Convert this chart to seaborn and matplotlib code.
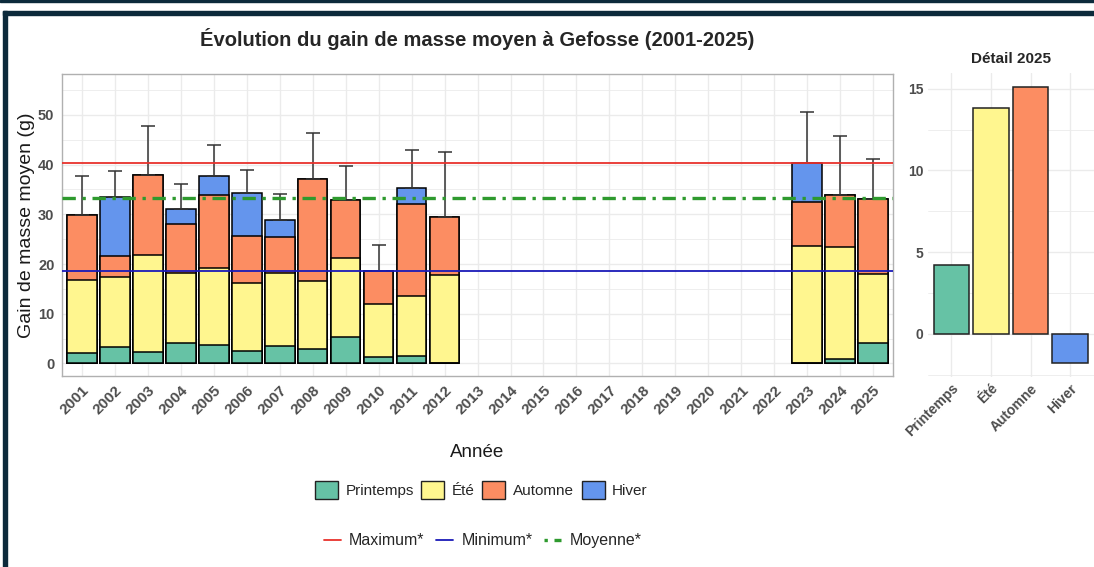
import pandas as pd
import numpy as np
import matplotlib.pyplot as plt
import seaborn as sns
from matplotlib.patches import Patch, Rectangle
from matplotlib.lines import Line2D
from matplotlib.ticker import MultipleLocator

# Données
annees_toutes = list(range(2001, 2026))
annees = [2001, 2002, 2003, 2004, 2005, 2006, 2007, 2008, 2009, 2010, 2011, 2012, 2023, 2024, 2025]
printemps = [2.1, 3.3, 2.3, 4.2, 3.7, 2.5, 3.6, 3.0, 5.4, 1.4, 1.5, 0.0, 0.0, 0.9, 4.2]
ete = [14.7, 14.1, 19.6, 13.9, 15.4, 13.6, 14.5, 13.6, 15.9, 10.5, 12.1, 17.7, 23.6, 22.5, 13.8]
automne = [13.1, 4.2, 16.0, 10.0, 14.7, 9.5, 7.3, 20.4, 11.5, 6.6, 18.5, 11.7, 8.9, 10.4, 15.1]
hiver = [0.0, 11.8, 0.0, 3.0, 3.9, 8.6, 3.5, 0.0, 0.0, 0.0, 3.2, 0.0, 7.9, 0.0, 0.0]
ecart_type = [7.7, 5.3, 9.9, 4.9, 6.3, 4.6, 5.1, 9.4, 6.9, 5.4, 7.7, 13.2, 10.1, 12.0, 8.0]

val_max = 40.4
val_min = 18.6
val_moy = 33.2

saisons = ["Printemps", "Été", "Automne", "Hiver"]
detail_2025 = [4.2, 13.8, 15.1, -1.8]

couleurs = {"Printemps": "#66c2a5", "Été": "#fff68f", "Automne": "#fc8d62", "Hiver": "#6495ed"}

sns.set_style("white")
plt.rcParams["font.family"] = ["Liberation Sans", "DejaVu Sans"]

df = pd.DataFrame({"annee": [str(a) for a in annees],
                   "Printemps": printemps, "Été": ete, "Automne": automne, "Hiver": hiver,
                   "sd": ecart_type})
# cumuls pour l'empilement
df["c_Printemps"] = df["Printemps"]
df["c_Été"] = df["c_Printemps"] + df["Été"]
df["c_Automne"] = df["c_Été"] + df["Automne"]
df["c_Hiver"] = df["c_Automne"] + df["Hiver"]
ordre = [str(a) for a in annees_toutes]

fig = plt.figure(figsize=(10.94, 5.67), dpi=100)
ax = fig.add_axes([0.0567, 0.337, 0.7596, 0.5325])
ax2 = fig.add_axes([0.848, 0.335, 0.152, 0.536])

grid_col = "#ebebeb"
txt_col = "#4d4d4d"

# Barres empilées (du cumul le plus haut au plus bas)
for s in ["Hiver", "Automne", "Été", "Printemps"]:
    sns.barplot(data=df, x="annee", y="c_" + s, order=ordre, color=couleurs[s],
                saturation=1, edgecolor="black", linewidth=1.1, width=0.9,
                errorbar=None, ax=ax, zorder=2)

pos = [ordre.index(a) for a in df["annee"]]
ax.errorbar(pos, df["c_Hiver"], yerr=[np.zeros(len(df)), df["sd"]], fmt="none",
            ecolor="#333333", elinewidth=1.1, capsize=5, capthick=1.1, zorder=3)

ax.axhline(val_max, color="#e8312c", lw=1.3, zorder=4)
ax.axhline(val_min, color="#1a1ab8", lw=1.3, zorder=4)
ax.axhline(val_moy, color="#2e9a2e", lw=2.4, ls=(0, (4, 2, 1, 2)), zorder=4)

ax.set_xlim(-0.6, len(ordre) - 0.4)
ax.set_ylim(-2.5, 58.2)
ax.yaxis.set_major_locator(MultipleLocator(10))
ax.yaxis.set_minor_locator(MultipleLocator(5))
ax.grid(True, which="major", color=grid_col, lw=1.0, zorder=0)
ax.grid(True, which="minor", axis="y", color=grid_col, lw=0.6, zorder=0)
ax.set_axisbelow(True)
for sp in ax.spines.values():
    sp.set_color("#b0b0b0")
    sp.set_linewidth(1.0)
ax.tick_params(axis="both", which="major", length=3.5, width=0.9, color="#333333",
               labelcolor=txt_col, pad=2)
ax.tick_params(axis="x", labelsize=11)
ax.tick_params(axis="y", labelsize=10.5)
ax.tick_params(axis="y", which="minor", length=0)
for lab in ax.get_xticklabels():
    lab.set_rotation(45)
    lab.set_ha("right")
    lab.set_rotation_mode("anchor")
    lab.set_fontweight("bold")
for lab in ax.get_yticklabels():
    lab.set_fontweight("bold")
ax.set_xlabel("Année", fontsize=13.5, color="#1a1a1a", labelpad=19)
ax.set_ylabel("Gain de masse moyen (g)", fontsize=14, color="#1a1a1a", labelpad=2)
ax.set_title("Évolution du gain de masse moyen à Gefosse (2001-2025)",
             fontsize=14.5, fontweight="bold", pad=20)

# Détail 2025
df2 = pd.DataFrame({"saison": saisons, "valeur": detail_2025})
sns.barplot(data=df2, x="saison", y="valeur", hue="saison", order=saisons,
            palette=couleurs, saturation=1, edgecolor="#222222", linewidth=1.1,
            width=0.9, errorbar=None, legend=False, ax=ax2, zorder=2)
ax2.set_xlim(-0.6, 3.6)
ax2.set_ylim(-2.65, 15.95)
ax2.yaxis.set_major_locator(MultipleLocator(5))
ax2.yaxis.set_minor_locator(MultipleLocator(2.5))
ax2.grid(True, which="major", color=grid_col, lw=1.0, zorder=0)
ax2.grid(True, which="minor", axis="y", color=grid_col, lw=0.6, zorder=0)
ax2.set_axisbelow(True)
for sp in ax2.spines.values():
    sp.set_visible(False)
ax2.tick_params(axis="both", which="both", length=0, labelsize=10, labelcolor=txt_col, pad=3)
for lab in ax2.get_xticklabels():
    lab.set_rotation(45)
    lab.set_ha("right")
    lab.set_rotation_mode("anchor")
    lab.set_fontweight("bold")
for lab in ax2.get_yticklabels():
    lab.set_fontweight("bold")
ax2.set_xlabel("")
ax2.set_ylabel("")
ax2.set_title("Détail 2025", fontsize=11, fontweight="bold", pad=7)

# Légendes
h_saisons = [Patch(facecolor=couleurs[s], edgecolor="#222222", lw=1.0, label=s) for s in saisons]
fig.legend(handles=h_saisons, loc="center", bbox_to_anchor=(0.44, 0.136), ncol=4,
           frameon=False, fontsize=11, handlelength=1.5, handleheight=1.5,
           handletextpad=0.5, columnspacing=0.5)
h_lignes = [Line2D([], [], color="#e8312c", lw=1.3, label="Maximum*"),
            Line2D([], [], color="#1a1ab8", lw=1.3, label="Minimum*"),
            Line2D([], [], color="#2e9a2e", lw=2.4, ls=(0, (1, 2, 3, 2)), label="Moyenne*")]
fig.legend(handles=h_lignes, loc="center", bbox_to_anchor=(0.441, 0.046), ncol=3,
           frameon=False, fontsize=11.5, handlelength=1.1, handletextpad=0.5, columnspacing=0.7)

# Cadre sombre de la capture
cadre = "#0c2a3b"
fig.add_artist(Rectangle((0, 1 - 2 / 567), 1, 2 / 567, transform=fig.transFigure, color=cadre))
fig.add_artist(Rectangle((3 / 1094, 1 - 15 / 567), 1, 4 / 567, transform=fig.transFigure, color=cadre))
fig.add_artist(Rectangle((3 / 1094, 0), 4 / 1094, 1 - 11 / 567, transform=fig.transFigure, color=cadre))

fig.savefig("out.png", dpi=100)
